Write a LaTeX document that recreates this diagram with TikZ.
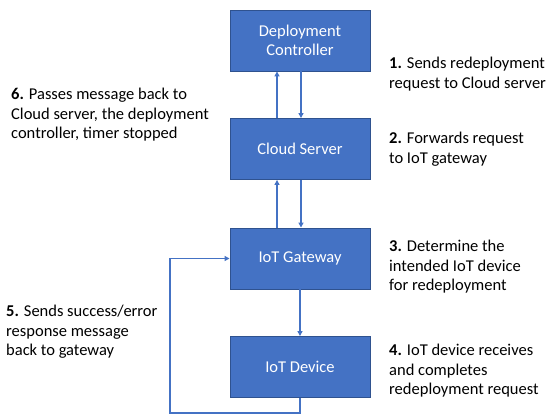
\documentclass[tikz,border=0pt]{standalone}
\usepackage{fontspec}
\setmainfont{Carlito}
\usetikzlibrary{arrows.meta}
\definecolor{boxfill}{HTML}{4472C4}
\definecolor{boxline}{HTML}{2F528F}
\definecolor{flow}{HTML}{4472C4}
\newcommand{\num}[1]{\textbf{#1}}
\tikzset{
  box/.style={draw=boxline, fill=boxfill, line width=0.9pt, text=white,
              minimum width=140pt, minimum height=61pt, align=center,
              font=\fontsize{16.5}{19}\selectfont},
  ar/.style={-{Triangle[length=5pt,width=5pt]}, line width=1.5pt, draw=flow},
  lbl/.style={anchor=north west, inner sep=0pt, align=left,
              font=\fontsize{16.5}{19.5}\selectfont}
}
\begin{document}
\begin{tikzpicture}[x=1pt,y=-1pt]
  \useasboundingbox (0,0) rectangle (550,419);

  \node[box] (dc)  at (300,40.5)  {Deployment\\Controller};
  \node[box] (cs)  at (300,149)   {Cloud Server};
  \node[box] (gw)  at (300,258.5) {IoT Gateway};
  \node[box] (dev) at (300,367)   {IoT Device};

  \node[lbl] (s1) at (389,57)  {\num{1.} Sends redeployment\\request to Cloud server};
  \node[lbl] (s2) at (389,132) {\num{2.} Forwards request\\to IoT gateway};
  \node[lbl] (s3) at (389,240) {\num{3.} Determine the\\intended IoT device\\for redeployment};
  \node[lbl] (s4) at (389,344) {\num{4.} IoT device receives\\and completes\\redeployment request};
  \node[lbl] (s5) at (6,305)   {\num{5.} Sends success/error\\response message\\back to gateway};
  \node[lbl] (s6) at (11,88)   {\num{6.} Passes message back to\\Cloud server, the deployment\\controller, timer stopped};

  \draw[ar] ([xshift=1pt]dc.south) -- ([xshift=1pt]cs.north);
  \draw[ar] ([xshift=-23pt]cs.north) -- ([xshift=-23pt]dc.south);
  \draw[ar] ([xshift=1pt]cs.south) -- ([xshift=1pt]gw.north);
  \draw[ar] ([xshift=-23pt]gw.north) -- ([xshift=-23pt]cs.south);
  \draw[ar] (gw.south) -- (dev.north);

  \coordinate (lp) at (170,413);
  \draw[ar] (dev.south) |- (lp) |- (gw.west);
\end{tikzpicture}
\end{document}
